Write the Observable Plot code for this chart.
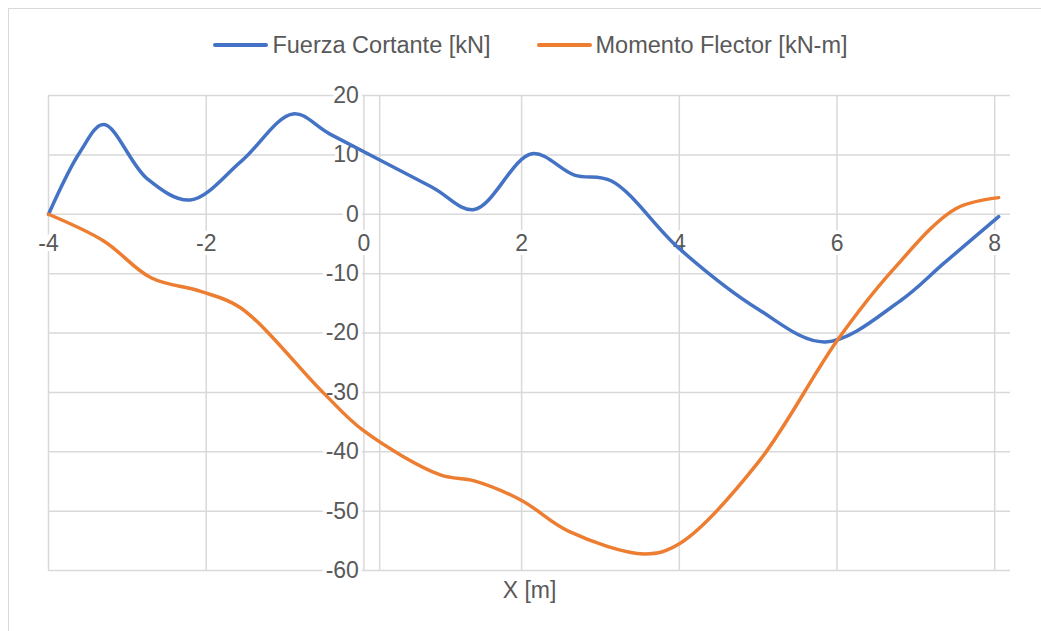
<!DOCTYPE html>
<html>
<head>
<meta charset="utf-8">
<script src="https://cdn.jsdelivr.net/npm/d3@7"></script>
<script src="https://cdn.jsdelivr.net/npm/@observablehq/plot@0.6"></script>
<style>
  html, body { margin: 0; padding: 0; background: #fff; overflow: hidden; }
  body { width: 1041px; height: 631px; position: relative; font-family: "Liberation Sans", Arial, sans-serif; }
  .frame { position: absolute; left: 8px; top: 8px; width: 1100px; height: 700px; border: 1px solid #d9d9d9; box-sizing: border-box; pointer-events: none; }
  .legend { position: relative; height: 80px; display: flex; justify-content: center; align-items: center; padding-left: 20px; padding-top: 10px; box-sizing: border-box; color: #595959; font-size: 23.5px; }
  .item { display: flex; align-items: center; }
  .item + .item { margin-left: 46px; }
  .swatch { width: 55px; height: 4px; border-radius: 2px; margin-right: 4px; }
  #chart svg { display: block; }
</style>
</head>
<body>
<div class="frame"></div>
<div class="legend" id="legend"></div>
<div id="chart"></div>
<script>
// Shear force and bending moment along the beam, x in metres
const xShear = [-4, -3.6, -3.3, -2.75, -2.2, -1.55, -0.9, -0.43, 0.86, 1.4, 2.13, 2.67, 3.14, 4, 5, 5.85, 6.8, 7.36, 8.05];
const shear  = [0, 10.5, 15.1, 6, 2.4, 9, 16.9, 13.5, 4.6, 0.8, 10.2, 6.6, 5.6, -5.8, -16, -21.5, -14.6, -8.2, -0.4];

const xMoment = [-4, -3.3, -2.7, -2.07, -1.57, -0.52, 0, 0.97, 1.4, 2, 2.6, 3.56, 4, 5, 6, 6.7, 7.5, 8.05];
const moment  = [0, -4.5, -10.7, -13, -15.7, -30, -36.5, -43.9, -44.9, -48.2, -53.4, -57.2, -55.5, -41.8, -21.3, -9.5, 0.9, 2.8];

const seriesNames = ["Fuerza Cortante [kN]", "Momento Flector [kN-m]"];
const seriesColors = ["#4472C4", "#ED7D31"];

const xTicks = [-4, -2, 0, 2, 4, 6, 8];
const yTicks = [-60, -50, -40, -30, -20, -10, 0, 10, 20];
const axisCross = 0.2;
const xTitle = "X [m]";

const shearData = xShear.map((x, i) => ({x, y: shear[i]}));
const momentData = xMoment.map((x, i) => ({x, y: moment[i]}));

// Legend above the chart
const legend = document.getElementById("legend");
seriesNames.forEach((name, i) => {
  const item = document.createElement("div");
  item.className = "item";
  const sw = document.createElement("span");
  sw.className = "swatch";
  sw.style.background = seriesColors[i];
  const label = document.createElement("span");
  label.textContent = name;
  item.append(sw, label);
  legend.append(item);
});

const grid = "#d9d9d9";
const textColor = "#595959";

const chart = Plot.plot({
  width: 1041,
  height: 551,
  marginTop: 15,
  marginBottom: 61,
  marginLeft: 48,
  marginRight: 31,
  style: { fontFamily: "'Liberation Sans', Arial, sans-serif", fontSize: "23px", background: "transparent" },
  x: { domain: [-4, 8.2], axis: null },
  y: { domain: [-60, 20], axis: null },
  marks: [
    Plot.gridX(xTicks, { stroke: grid, strokeOpacity: 1, strokeWidth: 1.5 }),
    Plot.ruleX([axisCross], { stroke: grid, strokeWidth: 1.5 }),
    Plot.gridY(yTicks, { stroke: grid, strokeOpacity: 1, strokeWidth: 1.5 }),
    // tick labels sit on the axes that cross at the origin
    Plot.text(xTicks, { x: d => d, y: 0, dy: 29, text: d => String(d), fill: textColor, stroke: "white", strokeWidth: 8, fontSize: 23 }),
    Plot.text(yTicks, { x: 0, y: d => d, dx: -5, textAnchor: "end", text: d => String(d), fill: textColor, stroke: "white", strokeWidth: 8, fontSize: 23 }),
    Plot.line(shearData, { x: "x", y: "y", stroke: seriesColors[0], strokeWidth: 3.5, curve: "catmull-rom" }),
    Plot.line(momentData, { x: "x", y: "y", stroke: seriesColors[1], strokeWidth: 3.5, curve: "catmull-rom" }),
    Plot.text([xTitle], { frameAnchor: "bottom", dy: 20, lineAnchor: "middle", text: d => d, fill: textColor, fontSize: 23 })
  ]
});
document.getElementById("chart").append(chart);
</script>
</body>
</html>
